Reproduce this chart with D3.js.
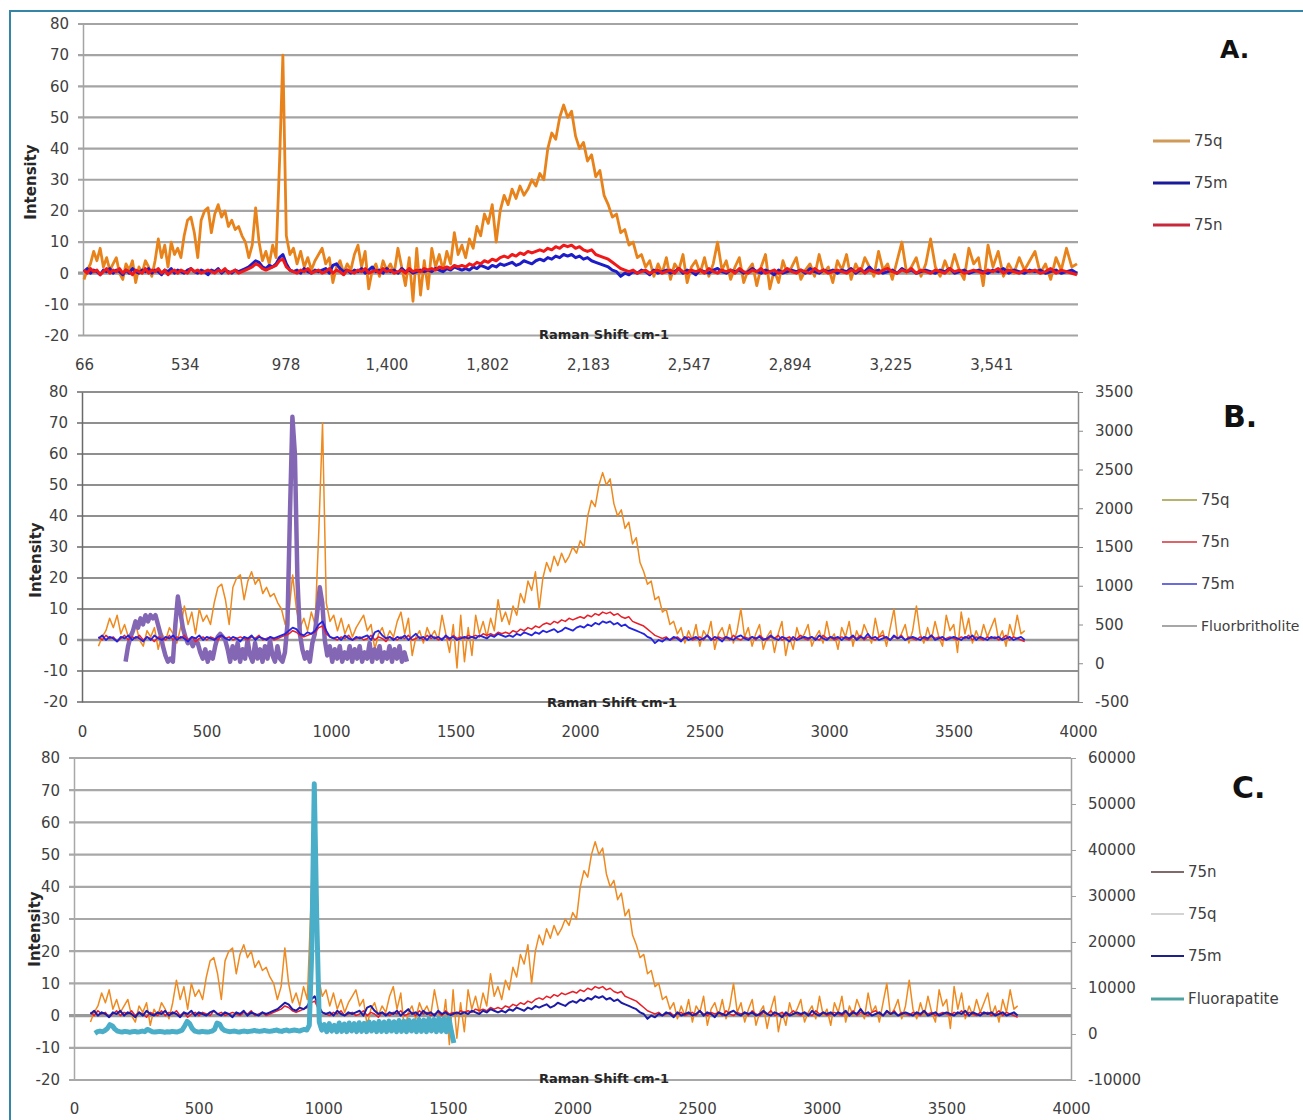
<!DOCTYPE html>
<html>
<head>
<meta charset="utf-8">
<script src="https://cdn.jsdelivr.net/npm/d3@7"></script>
<style>
body{margin:0;background:#fff;}
svg text{font-family:"DejaVu Sans",sans-serif;}
.tick text{font-size:15px;fill:#404040;}
.axisTitle{font-weight:bold;fill:#262626;}
.legendText{font-size:15px;fill:#404040;}
.panelTitle{font-weight:bold;fill:#111;}
</style>
</head>
<body>
<script>
// Raman shift grid (cm-1) shared by the three sample spectra
var shift = d3.range(66, 3800, 15);

var q75 = [
    -2, 1, 3, 7, 4, 8, 2, 5, 1, 3,
    5, 0, -2, 3, 1, 4, -3, 2, 0, 4,
    2, -1, 4, 11, 5, 9, 2, 10, 6, 8,
    5, 12, 17, 18, 13, 5, 17, 20, 21, 13,
    19, 22, 18, 20, 15, 17, 14, 15, 12, 10,
    5, 9, 21, 10, 4, 7, 3, 9, 5, 35,
    70, 12, 6, 8, 3, 7, 2, 5, 1, 4,
    6, 8, 3, 5, -3, 2, 4, 0, 3, 1,
    6, 9, 2, 7, -5, 1, 3, -1, 4, 1,
    3, 0, 8, 2, -4, 5, -9, 8, -7, 4,
    -5, 8, 2, 6, 1, 7, 3, 13, 6, 9,
    5, 11, 8, 15, 12, 19, 16, 22, 10, 20,
    25, 22, 27, 24, 28, 25, 27, 30, 28, 32,
    30, 40, 45, 43, 50, 54, 50, 52, 44, 40,
    42, 36, 38, 31, 33, 25, 22, 18, 19, 13,
    14, 9, 10, 5, 6, 2, 4, -1, 3, 0,
    5, -2, 3, 1, 6, -3, 2, 4, 0, 5,
    -1, 3, 10, 1, 4, -2, 2, 5, -3, 1,
    3, -4, 2, 6, -5, 1, -3, 4, 0, 2,
    5, -2, 1, 3, -1, 6, 0, 2, -3, 4,
    1, 6, -2, 3, 0, 5, 2, -1, 7, 1,
    3, -2, 4, 10, 0, 2, 5, -1, 3, 11,
    2, -1, 4, 0, 6, 1, -2, 8, 3, 5,
    -4, 9, 2, 7, -1, 3, 0, 5, 1, 4,
    7, 0, 3, -2, 5, 1, 8, 2, 3
];

var m75 = [
    0.5, 1.5, 0, 1, 0.5, -0.5, 1, 0.5, 1.5, 0,
    1, 0.5, -0.5, 1, 0, 1.5, 0.5, 0, 1, 0.5,
    1.5, 0, 1, 0.5, -0.5, 1, 0.5, 1.5, 0, 1,
    0.5, 0, 1, 1.5, 0.5, 0, 1, 0.5, -0.5, 1,
    0.5, 1.5, 0, 1, 0.5, 0, 1, 0.5, 1, 1.5,
    2, 3, 4, 3.5, 2, 1.5, 2.5, 2, 3, 5,
    6, 3, 1, 0.5, 1, 0, 1.5, 0.5, 0, 1,
    0.5, 1, 1.5, 0, 2.5, 3, 1.5, 0.5, 1, 0,
    1, 0.5, 1.5, 0, 1, 2, 0.5, 1, 0, 1.5,
    0.5, 1, 0, 1.5, 0.5, 1, 0, 0.5, 1, 0.5,
    1, 0.5, 1.5, 1, 0.5, 1.5, 1, 2, 1.5, 1,
    1.5, 1, 2, 1.5, 2.5, 2, 1.5, 2.5, 2, 3,
    2.5, 3, 3.5, 2.5, 3, 4, 3.5, 3, 4, 4.5,
    4, 5, 4.5, 5.5, 5, 6, 5.5, 6, 5, 5.5,
    4.5, 5, 4, 3.5, 3, 2.5, 2, 1, 0.5, -1,
    0, -0.5, 0.5, 0, 1, 0.5, -0.5, 1, 0, 0.5,
    1, 0, 0.5, 1.5, 0, 1, 0.5, -0.5, 1, 0.5,
    0, 1, 1.5, 0.5, 0, 1, 0.5, 1, 0, 0.5,
    1.5, 0.5, 0, 1, 0.5, -0.5, 1, 0, 0.5, 1,
    0.5, 1, 0, 1.5, 0.5, 0, 1, 0.5, 1, 0,
    1, 0.5, 1.5, 0, 1, 0.5, 2, 0.5, 1, 0,
    0.5, 1, 0, 1.5, 0.5, 1, 0, 0.5, 1, 0.5,
    0, 1, 0.5, 1.5, 0, 0.5, 1, 0, 0.5, 1,
    0.5, 0, 1, 0.5, 1.5, 0, 1, 0.5, 0, 1,
    0.5, 1, 0, 0.5, 1, 0, 0.5, 1, 0
];

var n75 = [
    1, 0, 1.5, 0.5, 1, -0.5, 0.5, 1.5, 0, 1,
    0.5, 1.5, 0, 1, 0.5, -0.5, 1, 0.5, 0, 1.5,
    0, 1, 0.5, 1.5, 0, 1, -0.5, 0.5, 1, 0,
    1, 0.5, 0, 1.5, 0.5, 1, 0, 0.5, 1, 0.5,
    0, 1, 0.5, 1.5, 0, 0.5, 1, 0, 0.5, 1,
    1.5, 2, 3, 2.5, 1.5, 1, 1.5, 2, 2.5, 4,
    4.5, 2, 1, 0.5, 0, 1, 0.5, 1.5, 0, 0.5,
    1, 0, 0.5, 1.5, 0, 1, 0.5, -0.5, 1, 0.5,
    0, 1, 0.5, 1.5, 0, 0.5, 1, 0, 1.5, 0.5,
    1, 0, 0.5, 1, 0, 1.5, 0.5, 1, 0.5, 1.5,
    1, 1.5, 1, 2, 1.5, 2, 1.5, 2.5, 2, 2.5,
    2, 3, 2.5, 3.5, 3, 4, 3.5, 4.5, 4, 5,
    5.5, 5, 6, 5.5, 6.5, 6, 7, 6.5, 7, 7.5,
    7, 8, 7.5, 8.5, 8, 9, 8.5, 9, 8, 8.5,
    7.5, 7, 7.5, 6, 5.5, 5, 4.5, 3.5, 2.5, 1.5,
    1, 0.5, 1, 0, 0.5, 1, 0, 0.5, 1, 0,
    0.5, 1, 0, 1.5, 0.5, 0, 1, 0.5, 1, 0,
    1.5, 0.5, 0, 1, 0.5, 1, 0, 1.5, 0.5, 0,
    1, 0.5, 1.5, 0, 0.5, 1, 0, 0.5, 1.5, 0.5,
    0, 1, 0.5, 0, 1.5, 0.5, 1, 0, 0.5, 1,
    0.5, 0, 1, 0.5, 1.5, 0, 1, 0.5, 0, 1,
    1.5, 0.5, 0, 1, 0.5, 1.5, 0, 1, 0.5, 0,
    1, 0.5, 0, 1.5, 0.5, 1, 0, 0.5, 1, 0.5,
    0, 1, 0.5, 1.5, 0, 1, 0.5, 0, 1, 0.5,
    1, 0, 0.5, 1.5, 0, 1, 0.5, 0, -0.5
];

// reference minerals, plotted on the secondary axes
var fbShift = d3.range(175, 1306, 10);
var fluorbritholite = [
    20, 220, 340, 420, 540, 460, 580, 500, 620, 540,
    620, 580, 620, 500, 380, 220, 100, 20, 60, 20,
    500, 860, 660, 460, 340, 260, 300, 220, 300, 260,
    140, 60, 180, 20, 140, 60, 220, 340, 380, 340,
    300, 180, 20, 220, 60, 260, 20, 180, 60, 300,
    100, 20, 260, 60, 180, 20, 220, 60, 300, 100,
    20, 220, 60, 20, 140, 500, 1900, 3180, 2700, 1100,
    380, 180, 60, 140, 20, 260, 380, 660, 980, 780,
    300, 100, 220, 20, 180, 60, 220, 20, 140, 60,
    220, 20, 180, 60, 220, 20, 140, 60, 260, 20,
    180, 60, 220, 20, 140, 60, 220, 20, 180, 60,
    220, 20, 140, 20
];

var faShift = d3.range(84, 1525, 10);
var fluorapatite = [
    150, 500, 640, 500, 780, 1200, 2040, 1760, 1060, 640,
    500, 430, 570, 500, 360, 500, 570, 430, 500, 640,
    500, 990, 780, 500, 430, 500, 570, 500, 360, 500,
    430, 570, 500, 430, 640, 850, 1760, 2740, 2250, 1200,
    640, 500, 430, 570, 500, 430, 500, 640, 990, 2390,
    2180, 1200, 780, 640, 500, 570, 640, 500, 430, 570,
    640, 500, 570, 640, 780, 640, 570, 640, 780, 640,
    570, 640, 780, 850, 640, 570, 780, 850, 640, 780,
    850, 780, 640, 850, 990, 850, 1900, 18000, 54400, 25000,
    2600, 850, 2040, 500, 2250, 640, 1900, 500, 2390, 570,
    2180, 500, 2390, 640, 2250, 500, 2460, 570, 2320, 500,
    2600, 640, 2460, 500, 2740, 570, 2600, 500, 2810, 640,
    2670, 500, 2950, 570, 2810, 500, 3020, 640, 2880, 500,
    3160, 570, 3020, 500, 3300, 640, 3160, 500, 3440, 570,
    3300, 500, 3510, 570, -1950
];

var leftTicks = [-20, -10, 0, 10, 20, 30, 40, 50, 60, 70, 80];
var catTicks = [66, 534, 978, 1400, 1802, 2183, 2547, 2894, 3225, 3541];
var shiftTicks = [0, 500, 1000, 1500, 2000, 2500, 3000, 3500, 4000];
var rightTicksB = [-500, 0, 500, 1000, 1500, 2000, 2500, 3000, 3500];
var rightTicksC = [-10000, 0, 10000, 20000, 30000, 40000, 50000, 60000];

window.onload = function(){
    var w = 1303, h = 1120;

    // plain hyphen minus and no thousands separator, as in the original
    var plain = function(d){ return String(d); };

    var svg = d3.select("body")
        .append("svg")
        .attr("width", w)
        .attr("height", h)
        .style("background-color", "#fff");

    // frame round the figure, right and bottom edges fall outside the view
    svg.append("path")
        .attr("d", "M10," + h + "V11H" + w)
        .style("fill", "none")
        .style("stroke", "#3585a6")
        .style("stroke-width", 2);

    function grid(g, y, x0, x1, color, width){
        g.selectAll(".grid")
            .data(leftTicks)
            .enter()
            .append("line")
            .attr("x1", x0 - 5)
            .attr("x2", x1)
            .attr("y1", function(d){ return y(d); })
            .attr("y2", function(d){ return y(d); })
            .style("stroke", function(d){ return d == 0 ? "#9a9a9a" : color; })
            .style("stroke-width", function(d){ return d == 0 ? width + 1 : width; });
    }

    function leftAxis(g, y, x0, color){
        var ax = g.append("g")
            .attr("transform", "translate(" + x0 + ",0)")
            .call(d3.axisLeft(y).tickValues(leftTicks).tickFormat(plain).tickSize(0).tickPadding(14));
        ax.select(".domain").style("stroke", color).style("stroke-width", 1.5);
    }

    function rightAxis(g, y, x1, ticks, color){
        var ax = g.append("g")
            .attr("transform", "translate(" + x1 + ",0)")
            .call(d3.axisRight(y).tickValues(ticks).tickFormat(plain).tickSize(5).tickPadding(12).tickSizeOuter(0));
        ax.selectAll("line").style("stroke", color);
        ax.select(".domain").style("stroke", color).style("stroke-width", 1.5);
    }

    function bottomAxis(g, x, y0, ticks, fmt, pad){
        var ax = g.append("g")
            .attr("transform", "translate(0," + y0 + ")")
            .call(d3.axisBottom(x).tickValues(ticks).tickFormat(fmt).tickSize(0).tickPadding(pad));
        ax.select(".domain").remove();
    }

    function series(g, xs, vals, x, y, color, width){
        var line = d3.line()
            .x(function(d, i){ return x(xs[i]); })
            .y(function(d){ return y(d); });
        g.append("path")
            .datum(vals)
            .attr("d", line)
            .style("fill", "none")
            .style("stroke", color)
            .style("stroke-width", width)
            .style("stroke-linejoin", "round");
    }

    function legend(g, x0, x1, items){
        items.forEach(function(it){
            g.append("line")
                .attr("x1", x0).attr("x2", x1)
                .attr("y1", it.y).attr("y2", it.y)
                .style("stroke", it.color)
                .style("stroke-width", it.width);
            g.append("text")
                .attr("class", "legendText")
                .attr("x", x1 + 4)
                .attr("y", it.y + 5)
                .style("font-size", (it.size || 15) + "px")
                .text(it.name);
        });
    }

    function titles(g, cx, cy, ix, iy, letter, lx, ly, size){
        g.append("text")
            .attr("class", "axisTitle")
            .attr("text-anchor", "middle")
            .attr("x", cx)
            .attr("y", cy)
            .style("font-size", "13px")
            .text("Raman Shift cm-1");
        g.append("text")
            .attr("class", "axisTitle")
            .attr("text-anchor", "middle")
            .attr("transform", "translate(" + ix + "," + iy + ") rotate(-90)")
            .style("font-size", "15px")
            .text("Intensity");
        g.append("text")
            .attr("class", "panelTitle")
            .attr("x", lx)
            .attr("y", ly)
            .style("font-size", size + "px")
            .text(letter);
    }

    // ---- A. category axis, so the shift labels are not evenly spaced in cm-1
    var gA = svg.append("g");
    var catPos = catTicks.map(function(d, i){ return 84 + 100.8 * i; });
    var xA = d3.scaleLinear()
        .domain(catTicks.concat([3786]))
        .range(catPos.concat([1077]));
    var yA = d3.scaleLinear().domain([-20, 80]).range([335.5, 24]);

    grid(gA, yA, 83, 1078, "#a4a4a4", 2.2);
    leftAxis(gA, yA, 83, "#a4a4a4");
    bottomAxis(gA, xA, yA(-20), catTicks, d3.format(","), 24);
    series(gA, shift, q75, xA, yA, "#e8831c", 2.8);
    series(gA, shift, m75, xA, yA, "#1c1cc8", 3);
    series(gA, shift, n75, xA, yA, "#f01818", 3);
    titles(gA, 604, 339, 36, 182, "A.", 1220, 58, 25);
    legend(gA, 1153, 1190, [
        {name: "75q", color: "#d09a58", width: 3, y: 141},
        {name: "75m", color: "#1a1a9a", width: 3, y: 183},
        {name: "75n", color: "#c8283c", width: 3, y: 225}
    ]);

    // ---- B. with Fluorbritholite on the right axis
    var gB = svg.append("g");
    var xB = d3.scaleLinear().domain([0, 4000]).range([82, 1078]);
    var yB = d3.scaleLinear().domain([-20, 80]).range([702, 392]);
    var yB2 = d3.scaleLinear().domain([-500, 3500]).range([702, 392]);

    grid(gB, yB, 82, 1078, "#6a6a6a", 1.4);
    leftAxis(gB, yB, 82, "#6a6a6a");
    rightAxis(gB, yB2, 1078, rightTicksB, "#8a8a8a");
    bottomAxis(gB, xB, yB(-20), shiftTicks, plain, 24);
    series(gB, shift, q75, xB, yB, "#ee8a20", 1.5);
    series(gB, fbShift, fluorbritholite, xB, yB2, "#8467b4", 4.5);
    series(gB, shift, n75, xB, yB, "#e8202a", 1.5);
    series(gB, shift, m75, xB, yB, "#2424e0", 1.8);
    titles(gB, 612, 707, 41, 560, "B.", 1223, 427, 30);
    legend(gB, 1162, 1197, [
        {name: "75q", color: "#9c9a3e", width: 1.5, y: 500},
        {name: "75n", color: "#d0303a", width: 1.5, y: 542},
        {name: "75m", color: "#3a3ad0", width: 1.5, y: 584},
        {name: "Fluorbritholite", color: "#8a8a8a", width: 1.5, y: 626, size: 14}
    ]);

    // ---- C. with Fluorapatite on the right axis
    var gC = svg.append("g");
    var xC = d3.scaleLinear().domain([0, 4000]).range([74, 1071]);
    var yC = d3.scaleLinear().domain([-20, 80]).range([1080, 758]);
    var yC2 = d3.scaleLinear().domain([-10000, 60000]).range([1080, 758]);

    grid(gC, yC, 74, 1071, "#a8a8a8", 2.2);
    leftAxis(gC, yC, 74, "#a8a8a8");
    rightAxis(gC, yC2, 1071, rightTicksC, "#a0a0a0");
    bottomAxis(gC, xC, yC(-20), shiftTicks, plain, 23);
    series(gC, shift, q75, xC, yC, "#ee8a20", 1.5);
    series(gC, shift, n75, xC, yC, "#e8202a", 1.5);
    series(gC, shift, m75, xC, yC, "#1c1ca8", 2);
    series(gC, faShift, fluorapatite, xC, yC2, "#4aaec8", 5);
    titles(gC, 604, 1083, 40, 929, "C.", 1232, 798, 30);
    legend(gC, 1151, 1184, [
        {name: "75n", color: "#5a3838", width: 1.5, y: 872},
        {name: "75q", color: "#a8a8a8", width: 1.2, y: 914},
        {name: "75m", color: "#20208a", width: 2, y: 956},
        {name: "Fluorapatite", color: "#4fa3a0", width: 3, y: 999}
    ]);
};
</script>
</body>
</html>
